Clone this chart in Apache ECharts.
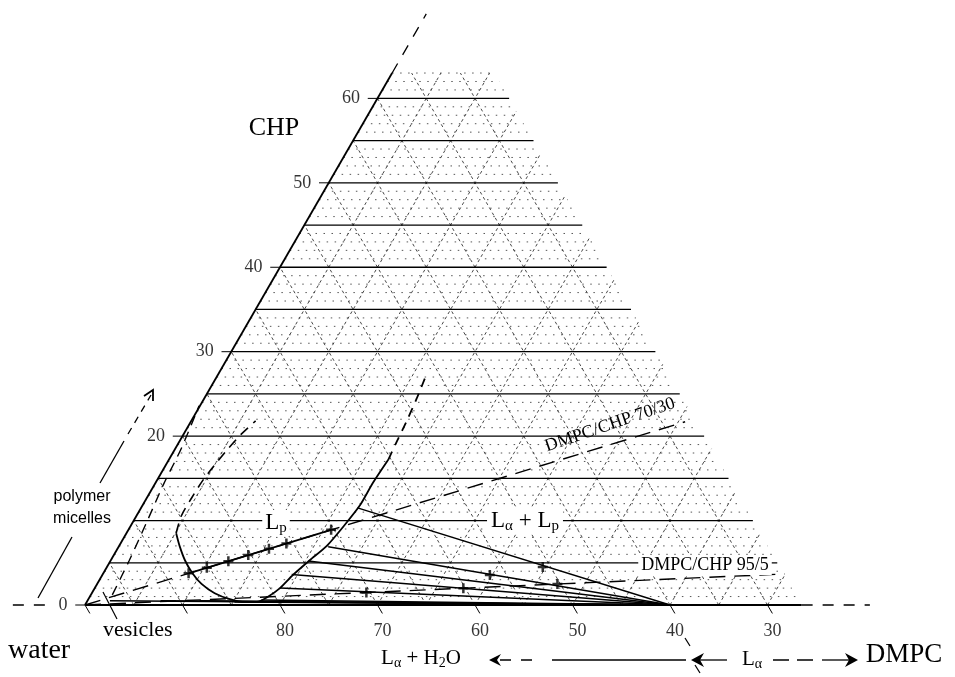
<!DOCTYPE html>
<html>
<head>
<meta charset="utf-8">
<script src="https://cdn.jsdelivr.net/npm/echarts@6/dist/echarts.min.js"></script>
<style>
html, body { margin: 0; background: #fff; }
#chart { width: 955px; height: 677px; }
</style>
</head>
<body>
<div id="chart"></div>
<script>
// every composition is [water %, CHP %], DMPC is what is left
var bottomTicks = [100, 90, 80, 70, 60, 50, 40, 30];
var bottomLabels = [80, 70, 60, 50, 40, 30];
var leftTicks = [0, 20, 30, 40, 50, 60];
var leftLabels = [0, 20, 30, 40, 50, 60];

// Lp boundary (solid part)
var lpWater = [86.4, 86.8, 87.1, 87.1, 86.8, 86.0, 84.8, 83.4, 82.2, 80.8, 79.0, 76.9, 74.3, 71.7, 68.6, 65.9, 63.2, 60.3];
var lpChp   = [8.5, 7.0, 5.3, 3.8, 2.5, 1.4, 0.7, 0.36, 0.36, 0.95, 2.0, 3.55, 5.3, 7.0, 9.5, 11.8, 14.5, 17.2];
// dashed continuation at the top right of Lp
var lpTopWater = [60.3, 58.3, 56.1, 53.8, 51.5];
var lpTopChp   = [17.2, 19.4, 21.8, 24.4, 27.1];
// dashed continuation at the top left of Lp
var lpLeftWater = [86.4, 84.8, 82.7, 80.6, 78.5, 76.2, 73.9, 71.6];
var lpLeftChp   = [8.5, 10.6, 12.7, 14.7, 16.5, 18.4, 20.2, 21.8];
// polymer micelle boundary (dashed, near the water/CHP side)
var micWater = [96.6, 92.8, 88.6, 84.7, 80.8, 76.5];
var micChp   = [1.2, 5.3, 10.0, 14.4, 18.6, 23.6];

// tie lines, all ending at the La corner
var tieWater = [66.3, 71.6, 74.5, 77.0, 79.0, 81.6, 84.5, 88.0, 92.0, 97.2];
var tieChp   = [11.5, 6.9, 5.2, 3.6, 2.0, 0.6, 0.35, 0.5, 0.5, 0.5];
var tieEnd = [40, 0];

// dilution lines from the water corner
var line7030 = [[100, 0], [27.6, 21.7]];
var line955 = [[100, 0], [26.4, 3.68]];

// samples
var s7030Water = [87.5, 85.3, 82.7, 80.3, 77.8, 75.7, 70.3];
var s7030Chp   = [3.75, 4.41, 5.19, 5.91, 6.66, 7.29, 8.91];
var s955Water = [70.4, 60.2, 50.3];
var s955Chp   = [1.48, 1.99, 2.49];
var sTieWater = [50.8, 56.7];
var sTieChp   = [4.5, 3.55];

var gridEdgeWater = 26.5;
var gridTopChp = 63;

var S3 = Math.sqrt(3) / 2;
function tern(w, c) { return [100 - w - c + c / 2, c * S3]; }
function path(ws, cs) { return ws.map(function (w, i) { return tern(w, cs[i]); }); }
function seg2(a) { return a.map(function (p) { return tern(p[0], p[1]); }); }

function linesSeries(segs, color, width, type, z) {
  return {
    type: 'lines', coordinateSystem: 'cartesian2d', polyline: true, silent: true, z: z,
    lineStyle: { color: color, width: width, type: type, opacity: 1 },
    data: segs.map(function (s) { return { coords: s }; })
  };
}
function curve(pts, width, type, smooth) {
  return {
    type: 'line', data: pts, smooth: smooth, showSymbol: false, silent: true, z: 4,
    lineStyle: { color: '#000', width: width, type: type }
  };
}

// graph paper
var minorH = [], majorH = [], diag = [];
for (var c = 1; c <= gridTopChp; c++) {
  var seg = [tern(100 - c, c), tern(gridEdgeWater, c)];
  if (c % 5 === 0 && c <= 60) majorH.push(seg); else minorH.push(seg);
}
for (var d = 5; d <= 70; d += 5) {
  var cTop = Math.min(gridTopChp, 100 - gridEdgeWater - d);
  diag.push([tern(100 - d, 0), tern(100 - d - cTop, cTop)]);
}
for (var w = 30; w <= 95; w += 5) {
  var wTop = Math.min(gridTopChp, 100 - w);
  diag.push([tern(w, 0), tern(w, wTop)]);
}

var tieSegs = tieWater.map(function (w, i) { return [tern(w, tieChp[i]), tern(tieEnd[0], tieEnd[1])]; });
var tickSegs = bottomTicks.map(function (w) { return [tern(w, 0), tern(w, -1)]; })
  .concat(leftTicks.map(function (c) { return [tern(100 - c, c), tern(101 - c, c)]; }));

var plus = 'path://M3,0H5V3H8V5H5V8H3V5H0V3H3Z';
var serif = '"Liberation Serif", "DejaVu Serif", serif';

var chart = echarts.init(document.getElementById('chart'));
chart.setOption({
  animation: false,
  backgroundColor: '#fff',
  grid: { left: 0, right: 0, top: 0, bottom: 0 },
  xAxis: { type: 'value', min: -85 / 9.75, max: 870 / 9.75, show: false },
  yAxis: { type: 'value', min: -72 / 9.75, max: 605 / 9.75, show: false },
  series: [
    linesSeries(minorH, '#444', 0.9, [1.5, 6.5], 1),
    linesSeries(diag, '#333', 0.9, [3, 3], 1),
    linesSeries(majorH, '#000', 1.3, 'solid', 2),
    // sides of the triangle
    linesSeries([[tern(100, 0), tern(gridEdgeWater, 0)], [tern(100, 0), tern(37, 63)]], '#000', 1.8, 'solid', 3),
    linesSeries([[tern(gridEdgeWater, 0), tern(19.5, 0)], [tern(37, 63), tern(30, 70)], [tern(107.4, 0), tern(103.9, 0)]],
      '#000', 1.3, [11, 10], 3),
    linesSeries(tickSegs, '#000', 1, 'solid', 3),
    linesSeries(tieSegs, '#000', 1.5, 'solid', 3),
    linesSeries([seg2(line7030), seg2(line955)], '#000', 1.4, [16, 9], 3),
    linesSeries([[tern(s7030Water[0], s7030Chp[0]), tern(s7030Water[6], s7030Chp[6])]], '#000', 1.8, 'solid', 3),
    curve(path(lpWater, lpChp), 1.8, 'solid', 0.25),
    curve(path(lpTopWater, lpTopChp), 1.8, [9, 7], 0.3),
    curve(path(lpLeftWater, lpLeftChp), 1.6, [10, 7], 0.3),
    curve(path(micWater, micChp), 1.4, [10, 7], 0.3),
    {
      type: 'scatter', symbol: plus, symbolSize: 10, silent: true, z: 5,
      itemStyle: { color: '#000' },
      data: path(s7030Water, s7030Chp).concat(path(s955Water, s955Chp), path(sTieWater, sTieChp))
    },
    {
      type: 'scatter', symbolSize: 1, silent: true, z: 5, itemStyle: { color: 'rgba(0,0,0,0)' },
      data: bottomLabels.map(function (w) { return tern(w, 0); }),
      label: {
        show: true, position: 'bottom', distance: 17, offset: [5, 0], color: '#000',
        fontFamily: serif, fontSize: 18,
        formatter: function (p) { return String(bottomLabels[p.dataIndex]); }
      }
    },
    {
      type: 'scatter', symbolSize: 1, silent: true, z: 5, itemStyle: { color: 'rgba(0,0,0,0)' },
      data: leftLabels.map(function (c) { return tern(100 - c, c); }),
      label: {
        show: true, position: 'left', distance: 17, color: '#000',
        fontFamily: serif, fontSize: 18,
        formatter: function (p) { return String(leftLabels[p.dataIndex]); }
      }
    }
  ],
  graphic: [
    { type: 'text', x: 274, y: 128, z: 100, style: { text: 'CHP', font: '26px ' + serif, fill: '#000', align: 'center', verticalAlign: 'middle' } },
    { type: 'text', x: 8, y: 651, z: 100, style: { text: 'water', font: '28px ' + serif, fill: '#000', align: 'left', verticalAlign: 'middle' } },
    { type: 'text', x: 904, y: 655, z: 100, style: { text: 'DMPC', font: '27px ' + serif, fill: '#000', align: 'center', verticalAlign: 'middle' } },
    { type: 'text', x: 103, y: 630, z: 100, style: { text: 'vesicles', font: '22px ' + serif, fill: '#000', align: 'left', verticalAlign: 'middle' } },
    { type: 'text', x: 82, y: 497, z: 100, style: { text: 'polymer', font: '16px "Liberation Sans", Arial, sans-serif', fill: '#000', align: 'center', verticalAlign: 'middle' } },
    { type: 'text', x: 82, y: 519, z: 100, style: { text: 'micelles', font: '16px "Liberation Sans", Arial, sans-serif', fill: '#000', align: 'center', verticalAlign: 'middle' } },
    {
      type: 'text', x: 276, y: 523, z: 100,
      style: {
        text: '{n|L}{s|p}', align: 'center', verticalAlign: 'middle', backgroundColor: '#fff', padding: [0, 3],
        rich: { n: { fontSize: 23, fontFamily: serif, fill: '#000' }, s: { fontSize: 15, fontFamily: serif, fill: '#000', padding: [11, 0, 0, 0] } }
      }
    },
    {
      type: 'text', x: 525, y: 521, z: 100,
      style: {
        text: '{n|L}{s|α}{n| + L}{s|p}', align: 'center', verticalAlign: 'middle', backgroundColor: '#fff', padding: [0, 4],
        rich: { n: { fontSize: 23, fontFamily: serif, fill: '#000' }, s: { fontSize: 15, fontFamily: serif, fill: '#000', padding: [11, 0, 0, 0] } }
      }
    },
    {
      type: 'text', x: 421, y: 658, z: 100,
      style: {
        text: '{n|L}{s|α}{n| + H}{s|2}{n|O}', align: 'center', verticalAlign: 'middle',
        rich: { n: { fontSize: 21, fontFamily: serif, fill: '#000' }, s: { fontSize: 14, fontFamily: serif, fill: '#000', padding: [10, 0, 0, 0] } }
      }
    },
    {
      type: 'text', x: 752, y: 659, z: 100,
      style: {
        text: '{n|L}{s|α}', align: 'center', verticalAlign: 'middle',
        rich: { n: { fontSize: 21, fontFamily: serif, fill: '#000' }, s: { fontSize: 14, fontFamily: serif, fill: '#000', padding: [10, 0, 0, 0] } }
      }
    },
    { type: 'text', x: 705, y: 565, z: 100, style: { text: 'DMPC/CHP 95/5', font: '18px ' + serif, fill: '#000', align: 'center', verticalAlign: 'middle', backgroundColor: '#fff', padding: [1, 3] } },
    { type: 'text', x: 610, y: 425, z: 100, rotation: 0.33, style: { text: 'DMPC/CHP 70/30', font: '18px ' + serif, fill: '#000', align: 'center', verticalAlign: 'middle' } },

    // polymer micelles arrow
    { type: 'line', z: 100, shape: { x1: 38, y1: 598, x2: 72, y2: 537 }, style: { stroke: '#000', lineWidth: 1.3 } },
    { type: 'line', z: 100, shape: { x1: 100, y1: 483, x2: 124, y2: 441 }, style: { stroke: '#000', lineWidth: 1.3 } },
    { type: 'line', z: 100, shape: { x1: 128, y1: 434, x2: 151, y2: 395 }, style: { stroke: '#000', lineWidth: 1.3, lineDash: [7, 6] } },
    { type: 'polyline', z: 100, shape: { points: [[144, 396], [153, 390], [153, 401]] }, style: { stroke: '#000', lineWidth: 1.8, fill: null } },
    // vesicles pointer
    { type: 'line', z: 100, shape: { x1: 117, y1: 619, x2: 103, y2: 592 }, style: { stroke: '#000', lineWidth: 1.2 } },

    // bottom row of arrows
    { type: 'polygon', z: 100, shape: { points: [[489, 660], [501, 654], [497, 660], [501, 666]] }, style: { fill: '#000' } },
    { type: 'line', z: 100, shape: { x1: 500, y1: 660, x2: 534, y2: 660 }, style: { stroke: '#000', lineWidth: 1.3, lineDash: [11, 10] } },
    { type: 'line', z: 100, shape: { x1: 552, y1: 660, x2: 686, y2: 660 }, style: { stroke: '#000', lineWidth: 1.3 } },
    { type: 'line', z: 100, shape: { x1: 685, y1: 638, x2: 690, y2: 646 }, style: { stroke: '#000', lineWidth: 1.2 } },
    { type: 'line', z: 100, shape: { x1: 695, y1: 665, x2: 700, y2: 673 }, style: { stroke: '#000', lineWidth: 1.2 } },
    { type: 'polygon', z: 100, shape: { points: [[691, 660], [704, 653], [700, 660], [704, 667]] }, style: { fill: '#000' } },
    { type: 'line', z: 100, shape: { x1: 700, y1: 660, x2: 727, y2: 660 }, style: { stroke: '#000', lineWidth: 1.3 } },
    { type: 'line', z: 100, shape: { x1: 773, y1: 660, x2: 815, y2: 660 }, style: { stroke: '#000', lineWidth: 1.3, lineDash: [16, 8] } },
    { type: 'line', z: 100, shape: { x1: 822, y1: 660, x2: 850, y2: 660 }, style: { stroke: '#000', lineWidth: 1.3 } },
    { type: 'polygon', z: 100, shape: { points: [[858, 660], [845, 653], [849, 660], [845, 667]] }, style: { fill: '#000' } }
  ]
});
</script>
</body>
</html>
